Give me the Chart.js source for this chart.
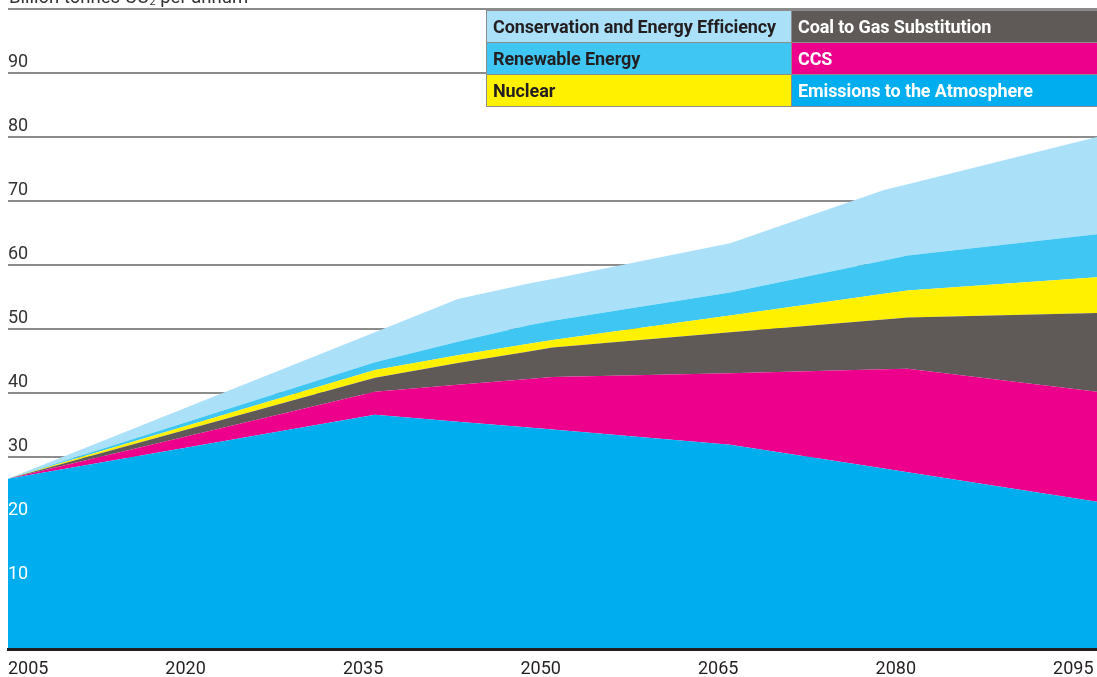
<!DOCTYPE html>
<html>
<head>
<meta charset="utf-8">
<script src="https://cdn.jsdelivr.net/npm/chart.js@4/dist/chart.umd.min.js"></script>
<style>
  html, body { margin: 0; padding: 0; background: #fff; }
  #wrap { position: relative; width: 1097px; height: 677px; overflow: hidden; }
  #chart { position: absolute; left: 0; top: 0; }
  #title {
    position: absolute; left: 9px; top: -12px;
    font: 400 18.5px Roboto, sans-serif; line-height: 18px; color: #333;
    white-space: nowrap;
  }
  #title sub { font-size: 11px; vertical-align: -2px; line-height: 0; }
  #legend {
    position: absolute; left: 486px; top: 10px; width: 612px;
    display: grid; grid-template-columns: 305px 306px; grid-template-rows: repeat(3, 32px);
    grid-auto-flow: column;
    border-top: 1px solid #8c8c8c; border-left: 1px solid #8c8c8c;
  }
  #legend .cell {
    border-right: 1px solid #8c8c8c; border-bottom: 1px solid #8c8c8c;
    padding-left: 6px; display: flex; align-items: center;
    font: 700 18px Roboto, sans-serif; letter-spacing: -0.1px; white-space: nowrap;
  }
</style>
</head>
<body>
<div id="wrap">
  <canvas id="chart" width="1097" height="677"></canvas>
  <div id="title">Billion tonnes CO<sub>2</sub> per annum</div>
  <div id="legend"></div>
</div>
<script>
// years where the stacked areas change slope
var years = [2005, 2036, 2043, 2049, 2051, 2066, 2079, 2081, 2097];

// billion tonnes CO2 per annum
var emissions    = [26.6, 36.6, 35.5, 34.6, 34.3, 31.9, 28.2, 27.6, 23.0];
var ccs          = [0, 3.6, 5.8, 7.6, 8.2, 11.2, 15.5, 16.2, 17.2];
var coalToGas    = [0, 2.2, 3.4, 4.3, 4.6, 6.4, 7.8, 8.0, 12.3];
var nuclear      = [0, 1.2, 1.2, 1.2, 1.2, 2.6, 4.0, 4.2, 5.6];
var renewable    = [0, 1.2, 2.1, 2.9, 3.0, 3.6, 5.2, 5.5, 6.7];
var conservation = [0, 4.7, 6.7, 6.5, 6.5, 7.7, 11.0, 11.1, 15.2];

var yearTicks = [2005, 2020, 2035, 2050, 2065, 2080, 2095];

Chart.defaults.font.family = 'Roboto, sans-serif';

// bottom to top
var series = [
  { label: 'Emissions to the Atmosphere', data: emissions, color: '#00aeef', text: '#fff' },
  { label: 'CCS', data: ccs, color: '#ec008c', text: '#fff' },
  { label: 'Coal to Gas Substitution', data: coalToGas, color: '#5f5a58', text: '#fff' },
  { label: 'Nuclear', data: nuclear, color: '#fff100', text: '#231f20' },
  { label: 'Renewable Energy', data: renewable, color: '#40c6f3', text: '#231f20' },
  { label: 'Conservation and Energy Efficiency', data: conservation, color: '#abe0f9', text: '#231f20' }
];

var ctx = document.getElementById('chart').getContext('2d');
var myChart = new Chart(ctx, {
  type: 'line',
  data: {
    labels: years,
    datasets: series.map(function (s, i) {
      return {
        label: s.label,
        data: s.data,
        backgroundColor: s.color,
        borderColor: 'rgba(0,0,0,0)',
        borderWidth: 0,
        pointRadius: 0,
        tension: 0,
        fill: i === 0 ? 'origin' : '-1'
      };
    })
  },
  options: {
    responsive: false,
    animation: false,
    devicePixelRatio: 1,
    layout: { padding: { left: 8, right: 0, top: 9, bottom: -1 } },
    plugins: { legend: { display: false }, tooltip: { enabled: false } },
    scales: {
      x: {
        type: 'linear',
        min: 2005,
        max: 2097,
        afterBuildTicks: function (axis) {
          axis.ticks = yearTicks.concat([axis.max]).map(function (v) { return { value: v }; });
        },
        grid: { display: false, drawTicks: true, tickLength: 11 },
        border: { display: true, color: '#231f20', width: 3, z: 1 },
        ticks: {
          autoSkip: false, maxRotation: 0, align: 'inner', padding: 0,
          color: '#231f20', font: { size: 18, lineHeight: 1 },
          callback: function (v) { return yearTicks.indexOf(v) >= 0 ? String(v) : ''; }
        }
      },
      y: {
        stacked: true,
        min: 0,
        max: 100,
        grid: { color: '#8c8c8c', lineWidth: 2, drawTicks: false },
        border: { display: false },
        ticks: {
          stepSize: 10, mirror: true, padding: 0, labelOffset: -11, z: 1,
          font: { size: 18, lineHeight: 0.5 },
          color: function (c) { return c.tick && c.tick.value <= 20 ? '#fff' : '#333'; },
          callback: function (v) { return v === 0 || v === 100 ? '' : String(v); }
        }
      }
    }
  }
});

// legend table, top row first, left column first
var legend = document.getElementById('legend');
series.slice().reverse().forEach(function (s) {
  var d = document.createElement('div');
  d.className = 'cell';
  d.style.background = s.color;
  d.style.color = s.text;
  d.textContent = s.label;
  legend.appendChild(d);
});
</script>
</body>
</html>
